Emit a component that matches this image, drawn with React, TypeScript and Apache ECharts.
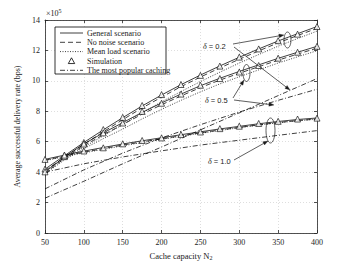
import React, { useEffect, useRef } from "react";
import * as echarts from "echarts";

const xs = [50, 75, 100, 125, 150, 175, 200, 225, 250, 275, 300, 325, 350, 375, 400];
const xsPop = [50, 100, 150, 200, 250, 300, 350, 400];

const genD02 = [4.2, 5.08, 5.95, 6.78, 7.58, 8.35, 9.07, 9.75, 10.38, 10.98, 11.55, 12.1, 12.62, 13.1, 13.57];
const genD05 = [4.0, 5.0, 5.85, 6.58, 7.25, 7.93, 8.55, 9.13, 9.68, 10.17, 10.62, 11.05, 11.48, 11.88, 12.27];
const genD10 = [4.84, 5.12, 5.38, 5.62, 5.85, 6.06, 6.26, 6.46, 6.65, 6.84, 7.01, 7.18, 7.33, 7.46, 7.56];

const noNoiseD02 = [4.1, 4.97, 5.83, 6.65, 7.45, 8.22, 8.93, 9.62, 10.25, 10.85, 11.42, 11.97, 12.5, 12.98, 13.45];
const noNoiseD05 = [3.92, 4.9, 5.74, 6.46, 7.13, 7.81, 8.43, 9.01, 9.56, 10.05, 10.5, 10.93, 11.36, 11.76, 12.15];
const noNoiseD10 = [4.78, 5.06, 5.31, 5.55, 5.78, 5.99, 6.19, 6.39, 6.58, 6.77, 6.94, 7.11, 7.26, 7.39, 7.49];

const meanD02 = [4.1, 4.88, 5.65, 6.38, 7.13, 7.9, 8.62, 9.3, 9.95, 10.57, 11.17, 11.73, 12.28, 12.78, 13.27];
const meanD05 = [3.9, 4.8, 5.55, 6.2, 6.83, 7.5, 8.13, 8.72, 9.28, 9.8, 10.27, 10.72, 11.17, 11.58, 11.98];
const meanD10 = [4.75, 5.02, 5.27, 5.5, 5.73, 5.95, 6.16, 6.36, 6.55, 6.74, 6.92, 7.09, 7.24, 7.38, 7.48];

const simD02 = [4.2, 5.08, 5.95, 6.8, 7.6, 8.38, 9.1, 9.76, 10.36, 10.97, 11.56, 12.1, 12.64, 13.07, 13.57];
const simD05 = [4.02, 5.02, 5.85, 6.58, 7.23, 7.99, 8.53, 9.13, 9.71, 10.15, 10.58, 11.01, 11.49, 11.88, 12.27];
const simD10 = [4.84, 5.12, 5.39, 5.6, 5.86, 6.08, 6.25, 6.47, 6.64, 6.86, 7.02, 7.2, 7.34, 7.49, 7.55];

const popD02 = [2.29, 3.4, 4.55, 5.65, 6.78, 7.9, 9.03, 10.15];
const popD05 = [2.9, 4.15, 5.25, 6.25, 7.12, 7.95, 8.72, 9.45];
const popD10 = [4.0, 4.55, 5.0, 5.4, 5.78, 6.1, 6.42, 6.73];

const xTicks = { min: 50, max: 400, interval: 50 };
const yTicks = { min: 0, max: 14, interval: 2 };

const legendNames = [
  "General scenario",
  "No noise scenario",
  "Mean load scenario",
  "Simulation",
  "The most popular caching",
];

const SERIF = "'Liberation Serif', 'DejaVu Serif', serif";
const SANS = "'Liberation Sans', Arial, sans-serif";
const INK = "#1a1a1a";

const DASHED = [5, 3];
const DOTTED = [1, 1.5];
const DASHDOT = [5, 2, 1, 2];

function arrow(x1: number, y1: number, x2: number, y2: number) {
  const ang = Math.atan2(y2 - y1, x2 - x1);
  const L = 5, W = 1.8;
  const bx = x2 - L * Math.cos(ang), by = y2 - L * Math.sin(ang);
  const px = -Math.sin(ang) * W, py = Math.cos(ang) * W;
  return [
    { type: "line", shape: { x1, y1, x2: bx, y2: by }, style: { stroke: INK, lineWidth: 0.7 }, z: 100 },
    {
      type: "polygon",
      shape: { points: [[x2, y2], [bx + px, by + py], [bx - px, by - py]] },
      style: { fill: INK, stroke: INK, lineWidth: 0.3 },
      z: 100,
    },
  ];
}

function ell(cx: number, cy: number, rx: number, ry: number) {
  return {
    type: "ellipse",
    shape: { cx, cy, rx, ry },
    style: { fill: "none", stroke: INK, lineWidth: 0.7 },
    z: 100,
  };
}

function deltaText(x: number, y: number, v: string) {
  return {
    type: "text",
    x,
    y,
    z: 100,
    style: {
      text: "{i|δ} = " + v,
      fontFamily: SANS,
      fontSize: 7.5,
      fill: INK,
      verticalAlign: "middle",
      rich: { i: { fontStyle: "italic", fontFamily: SERIF, fontSize: 8, fill: INK } },
    },
  };
}

function legendBox() {
  const left = 55, top = 27, w = 111, h = 47;
  const rows = [33, 42.3, 51.6, 61, 70.3];
  const styles: any[] = ["solid", DASHED, DOTTED, "tri", DASHDOT];
  const els: any[] = [
    {
      type: "rect",
      shape: { x: left, y: top, width: w, height: h },
      style: { fill: "#fff", stroke: "#000", lineWidth: 0.8 },
      z: 200,
    },
  ];
  rows.forEach((y, i) => {
    const st = styles[i];
    if (st === "tri") {
      const cx = 71.5, s = 3.2;
      els.push({
        type: "polygon",
        shape: { points: [[cx, y - s], [cx + s, y + s * 0.8], [cx - s, y + s * 0.8]] },
        style: { fill: "#fff", stroke: "#000", lineWidth: 0.8 },
        z: 201,
      });
    } else {
      els.push({
        type: "line",
        shape: { x1: 60, y1: y, x2: 83, y2: y },
        style: { stroke: "#000", lineWidth: 0.75, lineDash: st === "solid" ? null : st },
        z: 201,
      });
    }
    els.push({
      type: "text",
      x: 87,
      y,
      z: 201,
      style: { text: legendNames[i], fontFamily: SERIF, fontSize: 8, fill: INK, verticalAlign: "middle" },
    });
  });
  return els;
}

export default function App() {
  const ref = useRef<HTMLDivElement>(null);
  useEffect(() => {
    const chart = echarts.init(ref.current!, null, { renderer: "svg" });
    const pair = (xv: number[], ys: number[]) => xv.map((x, i) => [x, ys[i]]);
    const lineS = (name: string, data: number[][], type: any) => ({
      type: "line",
      name,
      data,
      symbol: "none",
      showSymbol: false,
      lineStyle: { color: "#000", width: 0.75, type },
      itemStyle: { color: "#000" },
      z: 5,
    });
    const scatS = (data: number[][]) => ({
      type: "scatter",
      name: legendNames[3],
      data,
      symbol: "triangle",
      symbolSize: 6,
      itemStyle: { color: "#fff", borderColor: "#000", borderWidth: 0.8 },
      z: 10,
    });
    const axisCommon = {
      type: "value",
      axisLine: { show: true, onZero: false, lineStyle: { color: "#262626", width: 0.8 } },
      axisTick: { show: true, inside: true, length: 3, lineStyle: { color: "#262626", width: 0.8 } },
    };
    const option: any = {
      animation: false,
      backgroundColor: "#fff",
      grid: { left: 45, right: 32, top: 20, bottom: 30, containLabel: false },
      xAxis: [
        {
          ...axisCommon,
          ...xTicks,
          position: "bottom",
          axisLabel: { fontFamily: SERIF, fontSize: 8, color: INK, margin: 5 },
          splitLine: { show: true, lineStyle: { type: [1, 2], color: "#c8c8c8", width: 0.6 } },
          name: "Cache capacity N{s|2}",
          nameLocation: "middle",
          nameGap: 17,
          nameTextStyle: {
            fontFamily: SERIF,
            fontSize: 8.5,
            color: INK,
            rich: { s: { fontFamily: SERIF, fontSize: 6, color: INK, verticalAlign: "bottom", padding: [5, 0, 0, 0] } },
          },
        },
        {
          ...axisCommon,
          ...xTicks,
          position: "top",
          axisLabel: { show: false },
          splitLine: { show: false },
        },
      ],
      yAxis: [
        {
          ...axisCommon,
          ...yTicks,
          position: "left",
          axisLabel: { fontFamily: SERIF, fontSize: 8, color: INK, margin: 5 },
          splitLine: { show: true, lineStyle: { type: [1, 2], color: "#c8c8c8", width: 0.6 } },
          name: "Average successful delivery rate (bps)",
          nameLocation: "middle",
          nameGap: 20,
          nameTextStyle: { fontFamily: SERIF, fontSize: 8, color: INK },
        },
        {
          ...axisCommon,
          ...yTicks,
          position: "right",
          axisLabel: { show: false },
          splitLine: { show: false },
        },
      ],
      series: [
        lineS(legendNames[0], pair(xs, genD02), "solid"),
        lineS(legendNames[0], pair(xs, genD05), "solid"),
        lineS(legendNames[0], pair(xs, genD10), "solid"),
        lineS(legendNames[1], pair(xs, noNoiseD02), DASHED),
        lineS(legendNames[1], pair(xs, noNoiseD05), DASHED),
        lineS(legendNames[1], pair(xs, noNoiseD10), DASHED),
        lineS(legendNames[2], pair(xs, meanD02), DOTTED),
        lineS(legendNames[2], pair(xs, meanD05), DOTTED),
        lineS(legendNames[2], pair(xs, meanD10), DOTTED),
        scatS(pair(xs, simD02)),
        scatS(pair(xs, simD05)),
        scatS(pair(xs, simD10)),
        lineS(legendNames[4], pair(xsPop, popD02), DASHDOT),
        lineS(legendNames[4], pair(xsPop, popD05), DASHDOT),
        lineS(legendNames[4], pair(xsPop, popD10), DASHDOT),
      ],
      graphic: [
        {
          type: "text",
          x: 46,
          y: 8,
          style: {
            text: "×10{p|5}",
            fontFamily: SERIF,
            fontSize: 8,
            fill: INK,
            rich: { p: { fontFamily: SERIF, fontSize: 6, fill: INK, verticalAlign: "top", padding: [0, 0, 5, 0] } },
          },
        },
        deltaText(203, 46, "0.2"),
        deltaText(205, 100, "0.5"),
        deltaText(208, 161, "1.0"),
        ...arrow(233, 44, 284, 35),
        ...arrow(234, 47, 290, 90),
        ...arrow(233, 98, 244, 80),
        ...arrow(234, 100, 274, 105),
        ...arrow(234, 160, 268, 141),
        ell(287.5, 40, 3.5, 8),
        ell(246.5, 73, 3.5, 8.5),
        ell(270.5, 130.5, 4.5, 12.5),
        ...legendBox(),
      ],
    };
    chart.setOption(option);
    return () => chart.dispose();
  }, []);
  return (
    <div
      ref={ref}
      style={{ position: "fixed", left: 0, top: 0, width: 349, height: 266, background: "#fff" }}
    />
  );
}
